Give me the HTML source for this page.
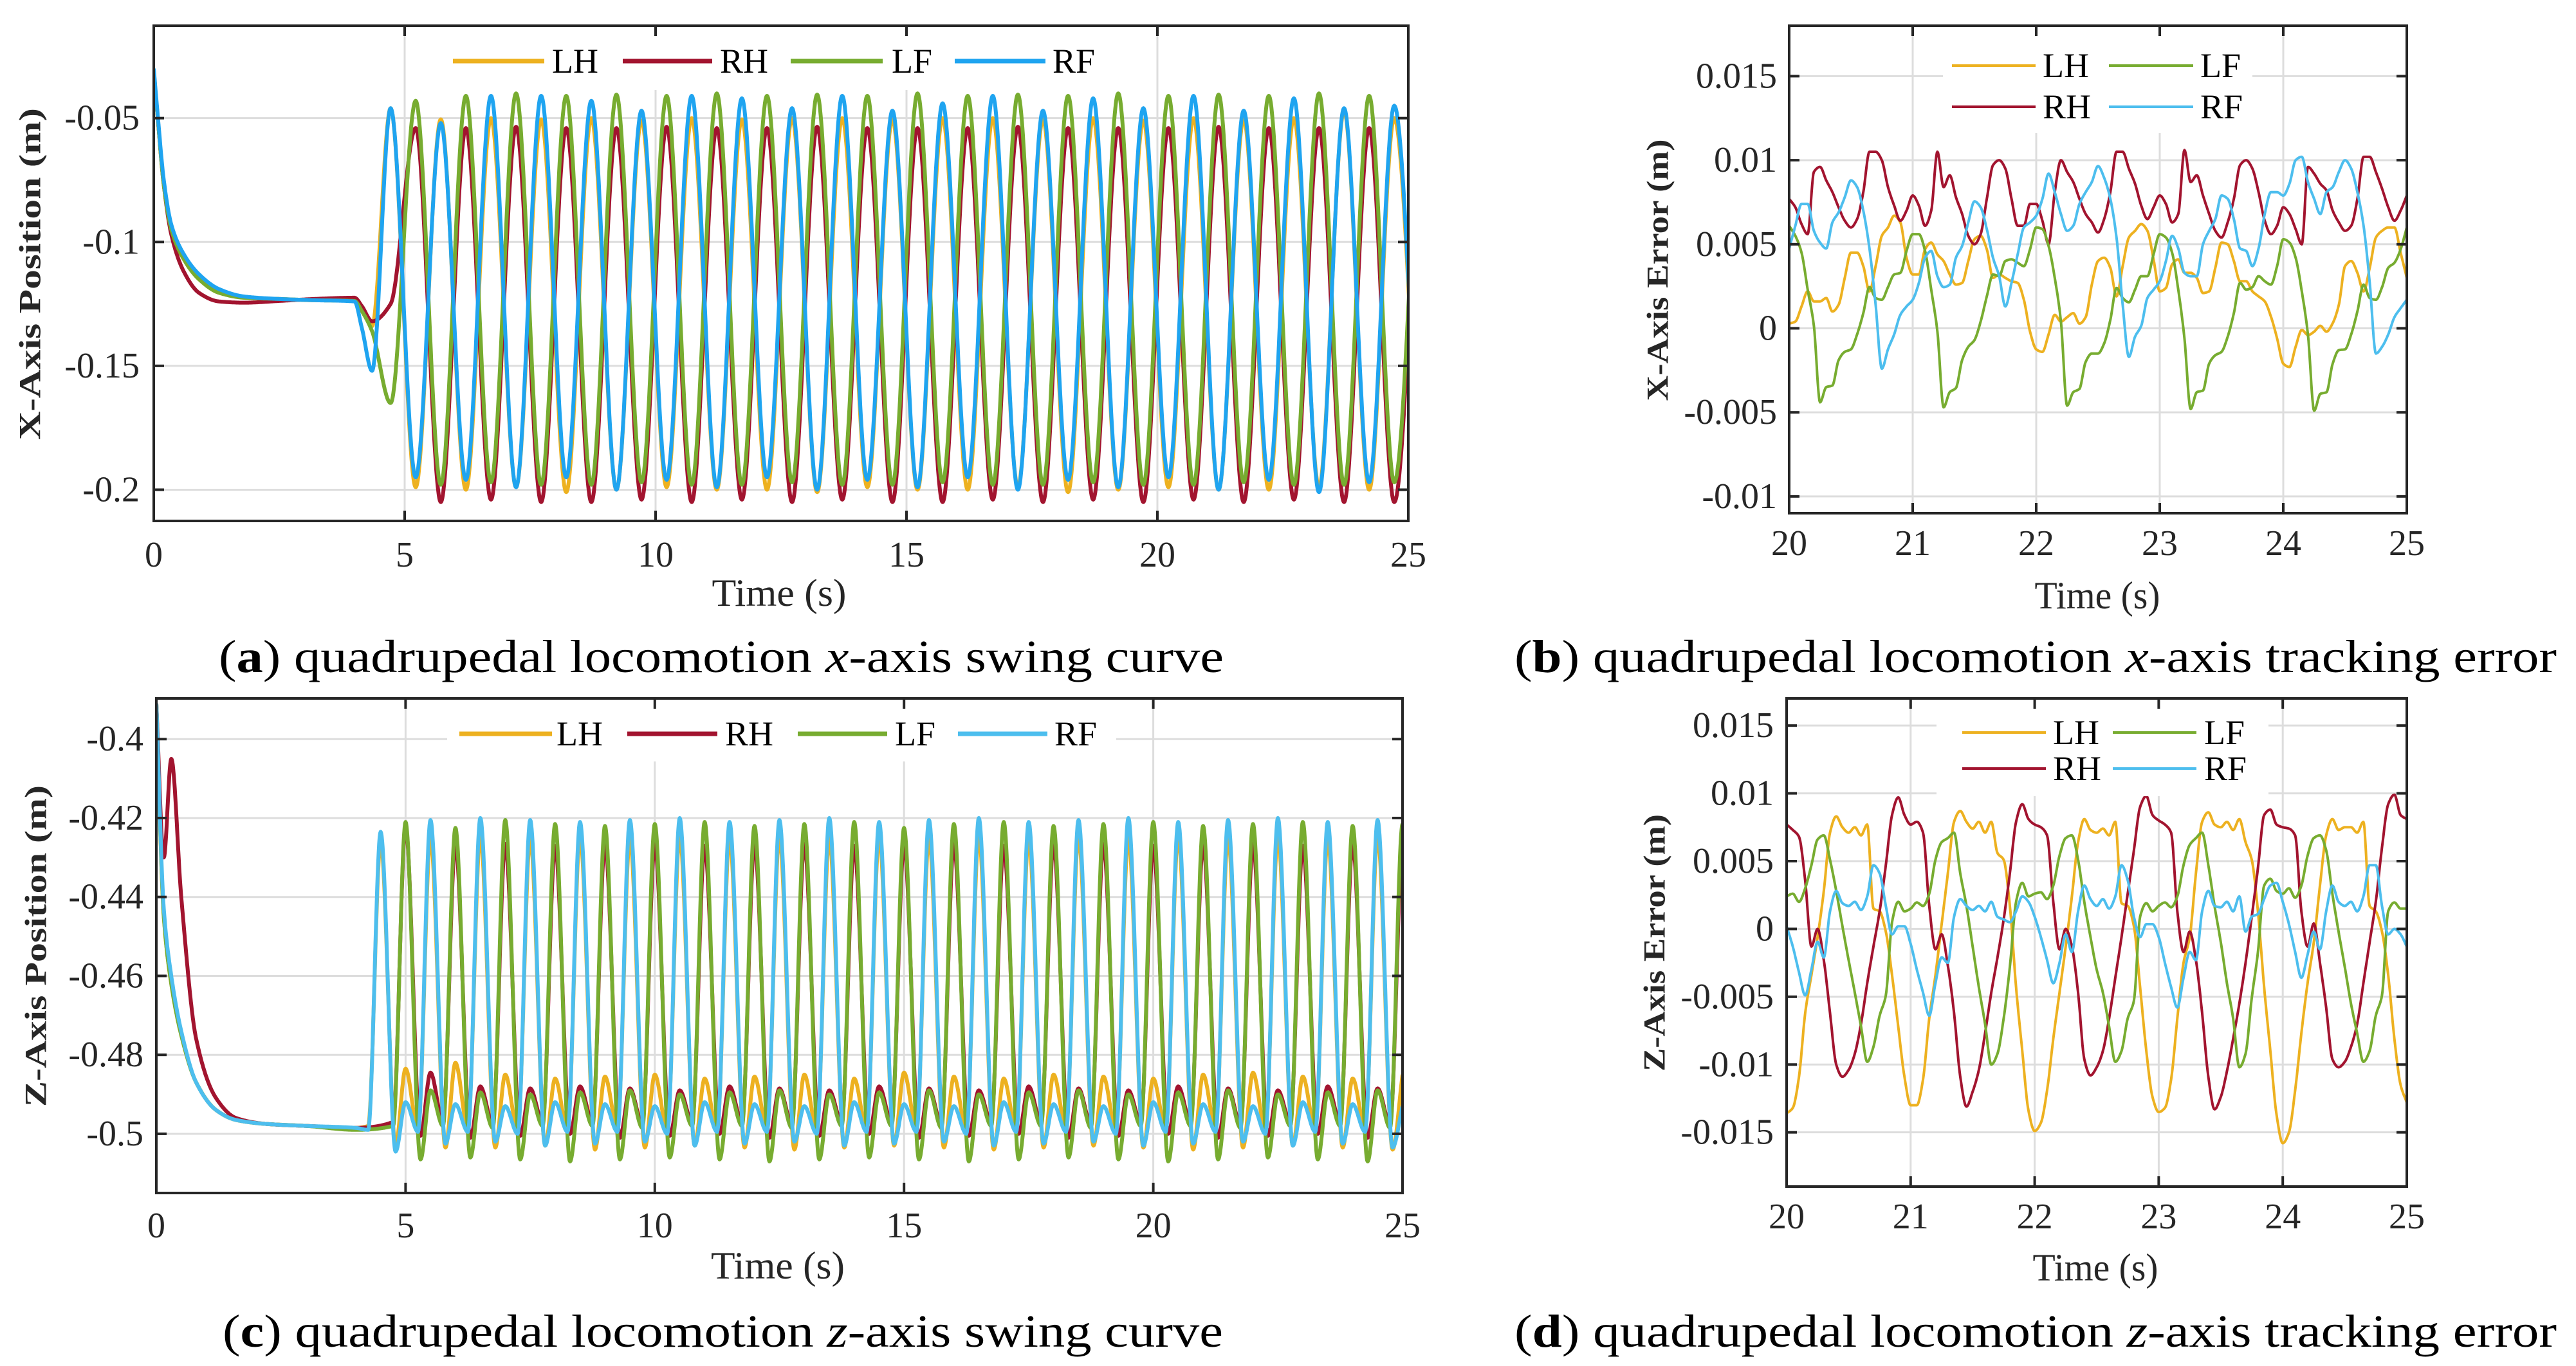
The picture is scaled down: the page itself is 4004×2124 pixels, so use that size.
<!DOCTYPE html>
<html><head><meta charset="utf-8"><title>Quadrupedal locomotion swing curves</title>
<style>html,body{margin:0;padding:0;background:#fff}svg{display:block}</style></head>
<body>
<svg id="fig" xmlns="http://www.w3.org/2000/svg" width="4004" height="2124" viewBox="0 0 4004 2124" font-family="'Liberation Serif', serif"></svg>
<script>
// ===== Panel (a) x-axis swing curve =====
const aTransT = [0, 0.08, 0.2, 0.35, 0.6, 0.9, 1.3, 1.8, 2.5, 3.2, 4.0, 4.15, 4.35];
const aTransLH = [-0.031, -0.05, -0.077, -0.095, -0.107, -0.115, -0.1205, -0.1225, -0.123, -0.1235, -0.123, -0.127, -0.134];
const aTransRH = [-0.031, -0.05, -0.077, -0.097, -0.112, -0.1205, -0.124, -0.1245, -0.1238, -0.123, -0.1225, -0.126, -0.132];
const aTransLF = [-0.031, -0.05, -0.077, -0.095, -0.107, -0.115, -0.1205, -0.1225, -0.123, -0.1235, -0.1238, -0.128, -0.136];
const aTransRF = [-0.030, -0.049, -0.075, -0.093, -0.105, -0.113, -0.119, -0.122, -0.123, -0.1235, -0.124, -0.135, -0.152];
const aGaitStart = 4.72;
const aGaitStep = 0.5;
const aGaitLH = [-0.046,-0.199, -0.0505,-0.200, -0.050,-0.199, -0.0505,-0.201, -0.050,-0.200, -0.051,-0.199, -0.050,-0.200, -0.0505,-0.200, -0.050,-0.201, -0.050,-0.199, -0.0505,-0.200, -0.050,-0.200, -0.050,-0.199, -0.0505,-0.201, -0.050,-0.200, -0.051,-0.199, -0.050,-0.200, -0.0505,-0.200, -0.050,-0.199, -0.047,-0.200, -0.050,-0.200];
const aGaitRF = [-0.046,-0.195, -0.052,-0.196, -0.041,-0.199, -0.041,-0.195, -0.043,-0.200, -0.047,-0.196, -0.041,-0.199, -0.042,-0.195, -0.046,-0.200, -0.041,-0.196, -0.047,-0.199, -0.044,-0.195, -0.041,-0.200, -0.047,-0.196, -0.042,-0.199, -0.046,-0.195, -0.041,-0.200, -0.047,-0.196, -0.042,-0.201, -0.046,-0.197, -0.045,-0.198];
const aGaitRH = [-0.125,-0.054, -0.205,-0.054, -0.204,-0.0535, -0.205,-0.054, -0.205,-0.054, -0.204,-0.0535, -0.205,-0.054, -0.204,-0.054, -0.205,-0.0535, -0.204,-0.054, -0.205,-0.054, -0.205,-0.054, -0.204,-0.0535, -0.205,-0.054, -0.204,-0.054, -0.205,-0.054, -0.204,-0.0535, -0.205,-0.054, -0.204,-0.054, -0.205,-0.054, -0.205,-0.054];
const aGaitLF = [-0.165,-0.043, -0.198,-0.041, -0.197,-0.040, -0.198,-0.041, -0.198,-0.0405, -0.197,-0.041, -0.198,-0.040, -0.198,-0.041, -0.197,-0.0405, -0.198,-0.041, -0.198,-0.040, -0.197,-0.041, -0.198,-0.0405, -0.198,-0.041, -0.197,-0.040, -0.198,-0.041, -0.198,-0.0405, -0.197,-0.041, -0.198,-0.040, -0.198,-0.041, -0.197,-0.041];
const aYTicks = [-0.2, -0.15, -0.1, -0.05];
const aYTickLabels = ["-0.2", "-0.15", "-0.1", "-0.05"];
const acXTicks = [0, 5, 10, 15, 20, 25];
const acXTickLabels = ["0", "5", "10", "15", "20", "25"];

// ===== Panel (c) z-axis swing curve =====
const cTransT = [0, 0.15, 0.3, 0.5, 0.8, 1.2, 1.6, 2.2, 3.0, 4.0];
const cTransLH = [-0.391, -0.445, -0.462, -0.475, -0.487, -0.494, -0.4965, -0.4975, -0.498, -0.4985];
const cTransRH = [-0.391, -0.43, -0.405, -0.44, -0.476, -0.491, -0.496, -0.4975, -0.498, -0.4985];
const cTransLF = [-0.391, -0.445, -0.462, -0.475, -0.487, -0.494, -0.4965, -0.4975, -0.498, -0.499];
const cTransRF = [-0.391, -0.443, -0.46, -0.474, -0.487, -0.494, -0.4965, -0.4975, -0.498, -0.4985];
const cPairAStart = 4.5;
const cPairBStart = 5.0;
const cRestLH = [-0.498,-0.499,-0.4985,-0.499,-0.499,-0.4985,-0.499,-0.499,-0.4985,-0.499,-0.499,-0.4985,-0.499,-0.499,-0.4985,-0.499,-0.499,-0.4985,-0.499,-0.499,-0.4985];
const cPeakLH = [-0.426,-0.425,-0.4245,-0.425,-0.4245,-0.425,-0.4245,-0.425,-0.4245,-0.425,-0.4245,-0.425,-0.4245,-0.425,-0.4245,-0.425,-0.4245,-0.425,-0.4245,-0.425,-0.4245];
const cLowLH = [-0.503,-0.5035,-0.5035,-0.503,-0.504,-0.5035,-0.503,-0.5035,-0.504,-0.5035,-0.503,-0.5035,-0.504,-0.5035,-0.503,-0.5035,-0.504,-0.5035,-0.503,-0.5035,-0.504];
const cBumpLH = [-0.4835,-0.482,-0.485,-0.486,-0.4855,-0.485,-0.486,-0.4855,-0.485,-0.486,-0.4845,-0.4855,-0.486,-0.485,-0.4855,-0.486,-0.485,-0.4845,-0.4855,-0.486,-0.485];
const cRestRF = [-0.499,-0.4995,-0.4995,-0.5,-0.4995,-0.4995,-0.5,-0.4995,-0.4995,-0.5,-0.4995,-0.4995,-0.5,-0.4995,-0.4995,-0.5,-0.4995,-0.4995,-0.5,-0.4995,-0.4995];
const cPeakRF = [-0.4235,-0.4205,-0.42,-0.4205,-0.421,-0.4205,-0.42,-0.421,-0.4205,-0.42,-0.421,-0.4205,-0.42,-0.421,-0.4205,-0.42,-0.421,-0.4205,-0.42,-0.421,-0.4205];
const cLowRF = [-0.5045,-0.5025,-0.502,-0.503,-0.5025,-0.502,-0.503,-0.5025,-0.502,-0.503,-0.5025,-0.502,-0.503,-0.5025,-0.502,-0.503,-0.5025,-0.502,-0.503,-0.5025,-0.5035];
const cBumpRF = [-0.492,-0.4925,-0.493,-0.492,-0.4925,-0.493,-0.492,-0.4925,-0.493,-0.492,-0.4925,-0.493,-0.492,-0.4925,-0.493,-0.492,-0.4925,-0.493,-0.492,-0.4925,-0.493];
const cRestRH = [-0.497,-0.497,-0.4975,-0.497,-0.497,-0.4975,-0.497,-0.497,-0.4975,-0.497,-0.497,-0.4975,-0.497,-0.497,-0.4975,-0.497,-0.497,-0.4975,-0.497,-0.497,-0.4975];
const cPeakRH = [-0.422,-0.4265,-0.4265,-0.427,-0.4265,-0.4265,-0.427,-0.4265,-0.4265,-0.427,-0.4265,-0.4265,-0.427,-0.4265,-0.4265,-0.427,-0.4265,-0.4265,-0.427,-0.4265,-0.428];
const cLowRH = [-0.5005,-0.501,-0.5005,-0.5,-0.501,-0.5005,-0.5,-0.501,-0.5005,-0.5,-0.501,-0.5005,-0.5,-0.501,-0.5005,-0.5,-0.501,-0.5005,-0.5,-0.501,-0.5005];
const cBumpRH = [-0.4845,-0.488,-0.4885,-0.488,-0.4885,-0.489,-0.488,-0.4885,-0.489,-0.488,-0.4885,-0.489,-0.488,-0.4885,-0.489,-0.488,-0.4885,-0.489,-0.488,-0.4885,-0.489];
const cRestLF = [-0.498,-0.498,-0.4985,-0.498,-0.498,-0.4985,-0.498,-0.498,-0.4985,-0.498,-0.498,-0.4985,-0.498,-0.498,-0.4985,-0.498,-0.498,-0.4985,-0.498,-0.498,-0.4985];
const cPeakLF = [-0.421,-0.4225,-0.4205,-0.4215,-0.422,-0.4215,-0.421,-0.422,-0.4215,-0.421,-0.4225,-0.4215,-0.421,-0.422,-0.4215,-0.421,-0.422,-0.4215,-0.421,-0.422,-0.4215];
const cLowLF = [-0.5065,-0.506,-0.5065,-0.507,-0.5065,-0.506,-0.5065,-0.507,-0.5065,-0.506,-0.5065,-0.507,-0.5065,-0.506,-0.5065,-0.507,-0.5065,-0.506,-0.5065,-0.507,-0.5065];
const cBumpLF = [-0.489,-0.4895,-0.49,-0.4895,-0.489,-0.49,-0.4895,-0.489,-0.49,-0.4895,-0.489,-0.49,-0.4895,-0.489,-0.49,-0.4895,-0.489,-0.49,-0.4895,-0.489,-0.49];
const cYTicks = [-0.5, -0.48, -0.46, -0.44, -0.42, -0.4];
const cYTickLabels = ["-0.5", "-0.48", "-0.46", "-0.44", "-0.42", "-0.4"];

// ===== Panel (b) x-axis tracking error (mm, t = 20..25 uniform) =====
const bLH = [0.28,0.4,1.3,2.2,1.6,1.6,1.8,1.0,1.4,3.0, 4.5,4.5,3.7,2.2,3.7,5.5,6.0,6.7,6.3,4.2, 3.2,3.2,4.7,5.1,4.4,4.0,3.2,2.6,2.7,4.0, 5.3,5.5,4.7,3.0,3.2,3.0,2.8,2.7,1.7,-0.2, -1.25,-1.4,-0.36,0.8,0.4,0.66,0.9,0.28,0.66,2.6,
  4.0,4.2,3.6,1.9,3.7,5.4,5.8,6.2,5.8,4.1, 2.2,2.4,3.8,4.1,3.3,3.3,3.0,2.1,2.2,3.6, 5.1,5.0,4.0,2.8,2.8,2.2,1.9,1.6,0.7,-0.6, -2.1,-2.3,-1.1,-0.1,-0.4,-0.2,0.15,-0.2,0.3,1.4, 3.7,4.0,3.3,2.2,3.6,5.4,5.8,6.0,6.0,4.5,3.0];
const bRH = [7.7,7.2,6.2,5.6,9.3,9.6,8.8,8.1,7.2,6.4, 6.0,6.5,8.1,10.5,10.5,10.0,8.4,7.3,6.4,7.0, 7.9,7.3,6.1,7.0,10.5,8.4,9.1,7.8,6.8,5.5, 5.0,5.6,7.7,9.7,10.0,9.5,7.7,6.1,6.1,7.4, 7.4,6.4,5.0,8.1,10.0,9.3,8.7,7.7,6.8,6.3,
  5.7,6.5,8.1,10.5,10.5,9.5,8.6,7.3,6.5,7.2, 7.9,7.4,6.3,6.8,10.6,8.7,9.1,7.9,6.8,5.8, 5.4,6.3,7.7,9.7,10.0,9.5,8.1,6.4,5.6,6.1, 7.2,6.8,5.9,5.0,9.6,9.2,8.6,8.2,7.0,6.3, 5.8,6.1,7.7,10.2,10.2,9.3,8.3,7.2,6.4,7.0,7.9];
const bLF = [6.1,5.5,4.5,2.3,0.15,-4.4,-3.5,-3.4,-1.9,-1.4, -1.25,-0.36,0.9,2.45,1.8,1.7,2.45,3.2,3.3,4.6, 5.6,5.6,4.6,2.3,-0.2,-4.7,-3.8,-3.55,-1.9,-1.1, -0.7,0.4,1.9,3.2,3.1,4.0,4.1,3.9,3.7,4.7, 6.0,5.9,4.9,3.0,0.4,-4.6,-3.8,-3.6,-2.0,-1.5,
  -1.5,-0.9,0.5,2.4,1.8,1.55,2.3,3.1,3.1,4.4, 5.6,5.4,4.5,2.3,-0.6,-4.8,-3.8,-3.7,-2.1,-1.6, -1.4,-0.5,0.9,2.7,2.3,2.45,3.1,2.8,2.6,3.7, 5.3,5.1,4.2,2.2,-0.4,-4.9,-3.9,-3.8,-2.1,-1.3, -1.25,-0.36,1.0,2.6,1.8,1.7,2.45,3.6,3.9,4.7,6.0];
const bRF = [4.75,6.1,7.4,7.4,5.8,5.1,4.75,6.3,6.9,7.8, 8.8,8.4,7.0,4.75,1.4,-2.4,-1.25,-0.36,0.8,1.3, 1.7,2.7,4.2,4.6,3.1,2.45,2.6,4.2,4.9,6.3, 7.55,7.2,5.9,4.2,3.1,1.3,2.7,4.4,6.0,6.3, 6.7,7.7,9.2,8.1,6.8,5.8,6.1,7.4,8.1,8.7,
  9.65,8.95,7.7,5.4,1.4,-1.7,-0.5,0.15,1.8,2.3, 2.8,4.0,5.5,4.75,3.3,3.1,3.1,5.0,5.8,6.5, 7.9,7.7,6.5,4.75,4.6,3.7,4.75,6.8,8.1,8.1, 7.9,8.6,10.0,10.2,8.7,7.7,6.8,8.1,8.4,9.3, 10.0,9.5,8.1,6.1,2.7,-1.5,-1.1,-0.36,0.66,1.2,1.7];
const bYTicks = [-0.01, -0.005, 0, 0.005, 0.01, 0.015];
const bYTickLabels = ["-0.01", "-0.005", "0", "0.005", "0.01", "0.015"];
const bdXTicks = [20, 21, 22, 23, 24, 25];
const bdXTickLabels = ["20", "21", "22", "23", "24", "25"];

// ===== Panel (d) z-axis tracking error (mm, t = 20..25 uniform) =====
const dLH = [-13.6,-13.2,-10.9,-6.2,-3.4,-0.6,2.8,7.1,8.3,7.5, 7.1,7.5,6.9,7.7,1.5,1.3,-0.2,-3.4,-7.2,-10.9, -13.0,-13.0,-11.1,-6.6,-3.4,0.35,4.1,7.9,8.7,7.9, 7.4,7.9,7.1,7.9,5.6,5.1,1.7,-4.3,-9.0,-13.4, -14.9,-14.3,-11.9,-8.1,-4.7,-1.3,2.4,6.4,8.1,7.3,7.1,
  7.4,6.9,7.9,1.9,1.7,0.2,-4.3,-9.0,-12.4, -13.5,-13.2,-11.1,-6.6,-2.5,-0.6,4.1,7.9,8.6,7.7, 7.5,7.9,7.3,8.1,6.4,5.1,1.3,-4.3,-9.0,-13.7, -15.8,-15.0,-11.9,-7.7,-4.0,-1.0,3.2,6.9,8.1,7.3, 7.5,7.5,7.1,7.9,1.7,1.3,-0.2,-3.4,-8.1,-11.5,-12.8];
const dRH = [7.7,7.3,6.8,3.55,-1.3,0.0,-2.3,-6.2,-10.0,-10.9, -10.4,-9.2,-7.0,-4.0,-1.3,1.3,4.7,8.4,9.7,8.4, 7.7,7.9,7.1,1.7,-1.5,-0.4,-2.7,-6.2,-10.9,-13.1, -12.0,-10.4,-7.7,-4.7,-2.1,0.7,4.1,7.9,9.2,8.1, 7.7,7.5,6.9,2.0,-1.5,0.0,-1.3,-4.7,-9.6,-10.8,-10.2,
  -9.0,-6.6,-3.6,-0.6,2.6,5.8,9.0,9.8,8.4, 8.0,7.7,7.1,1.3,-1.7,-0.2,-2.3,-6.2,-10.9,-13.3, -12.4,-10.5,-8.1,-5.5,-2.5,0.9,4.5,8.4,8.8,7.7, 7.5,7.4,6.9,1.3,-1.3,0.4,-2.5,-5.8,-9.6,-10.2, -9.8,-8.7,-7.0,-4.0,-1.0,2.0,6.0,9.2,9.9,8.4,8.1];
const dLF = [2.4,2.6,2.0,3.0,4.7,6.6,6.9,5.1,2.8,0.2, -2.3,-4.7,-7.2,-9.8,-8.7,-6.4,-4.9,0.5,2.0,1.3, 1.5,1.95,1.7,2.6,5.1,6.4,6.7,7.1,4.1,1.7, -1.3,-4.3,-7.0,-10.0,-9.2,-6.6,-2.8,2.0,3.4,2.4, 2.6,2.7,2.2,3.2,5.4,6.7,6.9,5.1,2.0,-0.6,-3.0,
  -4.7,-7.2,-9.8,-9.0,-6.6,-5.3,0.9,1.9,1.3, 1.7,1.95,1.6,2.4,4.7,6.2,6.7,7.1,4.7,1.7, -0.95,-4.0,-6.6,-10.2,-9.2,-5.1,-1.7,3.2,3.7,2.8, 2.6,3.0,2.3,3.2,5.4,6.7,6.9,5.8,2.6,-0.2, -2.8,-5.5,-7.7,-9.8,-9.0,-6.4,-4.9,1.3,1.95,1.5,1.5];
const dRF = [0.2,-1.3,-3.2,-4.9,-3.0,-0.95,-2.1,1.3,2.8,1.9, 1.7,2.0,1.4,2.4,4.7,4.1,1.7,-0.4,0.2,0.2, -1.1,-3.0,-4.7,-6.4,-4.0,-2.1,-2.5,0.9,2.2,1.7, 1.4,1.7,1.3,2.0,0.9,0.7,0.5,1.3,2.4,2.0, 0.9,-0.6,-2.3,-4.0,-2.5,-0.4,-1.7,1.3,3.2,2.2,1.7,
  2.2,1.5,2.4,4.7,3.6,0.9,-0.6,0.35,0.35,-0.6, -2.5,-4.3,-5.8,-3.6,-1.7,-2.3,1.3,2.8,1.7,1.6, 2.0,1.3,2.4,-0.2,0.9,1.1,2.2,3.2,3.4,2.0, 0.35,-1.7,-3.6,-1.9,-0.2,-1.5,1.3,3.2,2.0,1.7, 2.0,1.3,2.4,4.7,4.7,1.7,-0.4,0.0,-0.4,-1.3];
const dYTicks = [-0.015, -0.01, -0.005, 0, 0.005, 0.01, 0.015];
const dYTickLabels = ["-0.015", "-0.01", "-0.005", "0", "0.005", "0.01", "0.015"];

const legendNames = ["LH", "RH", "LF", "RF"];

// ===== rendering =====
const NS = "http://www.w3.org/2000/svg";
const svg = document.getElementById("fig");
function mk(tag, attrs, parent) {
  const e = document.createElementNS(NS, tag);
  for (const k in attrs) e.setAttribute(k, attrs[k]);
  (parent || svg).appendChild(e);
  return e;
}
function monotone(xs, ys) {
  const n = xs.length, h = [], d = [], m = new Array(n);
  for (let i = 0; i < n - 1; i++) { h[i] = xs[i+1] - xs[i]; d[i] = (ys[i+1] - ys[i]) / h[i]; }
  m[0] = d[0]; m[n-1] = d[n-2];
  for (let i = 1; i < n - 1; i++) {
    if (d[i-1] * d[i] <= 0) m[i] = 0;
    else { const w1 = 2*h[i] + h[i-1], w2 = h[i] + 2*h[i-1]; m[i] = (w1 + w2) / (w1 / d[i-1] + w2 / d[i]); }
  }
  return { h, m };
}
function curvePath(xs, ys, sx, sy, dt) {
  const { h, m } = monotone(xs, ys);
  let p = "M" + sx(xs[0]).toFixed(1) + "," + sy(ys[0]).toFixed(1);
  for (let i = 0; i < xs.length - 1; i++) {
    const k = Math.max(1, Math.ceil(h[i] / dt));
    for (let j = 1; j <= k; j++) {
      const s = j / k, s2 = s*s, s3 = s2*s;
      const v = (2*s3 - 3*s2 + 1) * ys[i] + (s3 - 2*s2 + s) * h[i] * m[i] + (-2*s3 + 3*s2) * ys[i+1] + (s3 - s2) * h[i] * m[i+1];
      p += "L" + sx(xs[i] + s*h[i]).toFixed(1) + "," + sy(v).toFixed(1);
    }
  }
  return p;
}
function makePanel(id, g) {
  const sx = t => g.x0 + (t - g.xd[0]) / (g.xd[1] - g.xd[0]) * (g.x1 - g.x0);
  const sy = v => g.y1 - (v - g.yd[0]) / (g.yd[1] - g.yd[0]) * (g.y1 - g.y0);
  const grp = mk("g", {});
  
  
  const clip = mk("clipPath", { id: id + "-clip" }, grp);
  mk("rect", { x: g.x0, y: g.y0, width: g.x1 - g.x0, height: g.y1 - g.y0 }, clip);
  return { sx, sy, grp, g };
}
function drawGrid(P, xTicks, yTicks) {
  const { sx, sy, grp, g } = P;
  xTicks.forEach(t => {
    if (t === g.xd[0] || t === g.xd[1]) return;
    const l = mk("line", { x1: sx(t), x2: sx(t), y1: g.y0, y2: g.y1, stroke: "#dddddd", "stroke-width": 3 }, grp);
    
    
  });
  yTicks.forEach(v => {
    const l = mk("line", { x1: g.x0, x2: g.x1, y1: sy(v), y2: sy(v), stroke: "#dddddd", "stroke-width": 3 }, grp);
    
    
  });
}
function drawSeries(P, id, name, xs, ys, color, width, dt) {
  const path = mk("path", { d: curvePath(xs, ys, P.sx, P.sy, dt), fill: "none", stroke: color, "stroke-width": width, "stroke-linejoin": "round", "clip-path": "url(#" + id + "-clip)" }, P.grp);
  
  
}
function drawAxes(P, xTicks, xLabels, yTicks, yLabels, o) {
  const { sx, sy, grp, g } = P;
  const box = mk("rect", { x: g.x0, y: g.y0, width: g.x1 - g.x0, height: g.y1 - g.y0, fill: "none", stroke: "#262626", "stroke-width": 4 }, grp);
  
  
  const tl = 16;
  xTicks.forEach((t, i) => {
    mk("line", { x1: sx(t), x2: sx(t), y1: g.y1, y2: g.y1 - tl, stroke: "#262626", "stroke-width": 4 }, grp);
    mk("line", { x1: sx(t), x2: sx(t), y1: g.y0, y2: g.y0 + tl, stroke: "#262626", "stroke-width": 4 }, grp);
    const tx = mk("text", { x: sx(t), y: o.xTickY, "text-anchor": "middle", "dominant-baseline": "central", "font-size": 56, fill: "#262626" }, grp);
    tx.textContent = xLabels[i];
    
    
  });
  yTicks.forEach((v, i) => {
    mk("line", { x1: g.x0, x2: g.x0 + tl, y1: sy(v), y2: sy(v), stroke: "#262626", "stroke-width": 4 }, grp);
    mk("line", { x1: g.x1, x2: g.x1 - tl, y1: sy(v), y2: sy(v), stroke: "#262626", "stroke-width": 4 }, grp);
    const tx = mk("text", { x: o.yTickX, y: sy(v), "text-anchor": "end", "dominant-baseline": "central", "font-size": 56, fill: "#262626" }, grp);
    tx.textContent = yLabels[i];
    
    
  });
  const xl = mk("text", { x: o.xLabel[0], y: o.xLabel[1], "text-anchor": "middle", "dominant-baseline": "central", "font-size": 60, textLength: o.xLabel[2], lengthAdjust: "spacingAndGlyphs", fill: "#262626" }, grp);
  xl.textContent = "Time (s)";
  
  
  const yl = mk("text", { x: 0, y: 0, transform: "translate(" + o.yLabel[0] + "," + o.yLabel[1] + ") rotate(-90)", "text-anchor": "middle", "dominant-baseline": "central", "font-size": 48, "font-weight": "bold", textLength: o.yLabel[2], lengthAdjust: "spacingAndGlyphs", fill: "#262626" }, grp);
  yl.textContent = o.yTitle;
  
  
}
function drawLegend(P, box, items) {
  const bg = mk("rect", { x: box[0], y: box[1], width: box[2], height: box[3], fill: "#ffffff" }, P.grp);
  
  
  items.forEach(it => {
    const lg = mk("g", {}, P.grp);
    
    
    mk("line", { x1: it.x1, x2: it.x2, y1: it.y, y2: it.y, stroke: it.color, "stroke-width": it.w }, lg);
    const t = mk("text", { x: it.tx, y: it.y, "dominant-baseline": "central", "font-size": 54, fill: "#000" }, lg);
    t.textContent = it.name;
  });
}
function drawCaption(x, y, len, letter, rest, italicWord, tail, name) {
  const t = mk("text", { x: x, y: y, "dominant-baseline": "central", "font-size": 72, textLength: len, lengthAdjust: "spacingAndGlyphs", fill: "#000" });
  
  
  const a = mk("tspan", {}, t); a.textContent = "(";
  const b = mk("tspan", { "font-weight": "bold" }, t); b.textContent = letter;
  const c = mk("tspan", {}, t); c.textContent = ") " + rest;
  const d = mk("tspan", { "font-style": "italic" }, t); d.textContent = italicWord;
  const e = mk("tspan", {}, t); e.textContent = tail;
}
function gaitKnots(transT, transV, start, step, vals) {
  const xs = transT.slice(), ys = transV.slice();
  vals.forEach((v, i) => { xs.push(start + i * step); ys.push(v); });
  return [xs, ys];
}
function zKnots(transT, transV, start, rest, peak, low, bump) {
  const xs = transT.slice(), ys = transV.slice();
  for (let k = 0; k < peak.length; k++) {
    const T = start + k;
    xs.push(T - 0.25, T, T + 0.3, T + 0.5);
    ys.push(rest[k], peak[k], low[k], bump[k]);
  }
  return [xs, ys];
}
function uniformT(n, t0, t1) { const a = []; for (let i = 0; i < n; i++) a.push(t0 + (t1 - t0) * i / (n - 1)); return a; }
const mm = arr => arr.map(v => v / 1000);

const COL = { LH: "#EDB120", RH: "#A2142F", LF: "#77AC30", RF: "#4DBEEE" };

// Panel a
const PA = makePanel("panel-a", { x0: 239, x1: 2189, y0: 40, y1: 810, xd: [0, 25], yd: [-0.2126, -0.0127] });
drawGrid(PA, acXTicks, aYTicks);
[["LH", aTransLH, aGaitLH, COL.LH], ["RH", aTransRH, aGaitRH, COL.RH], ["LF", aTransLF, aGaitLF, COL.LF], ["RF", aTransRF, aGaitRF, "#1FA4F0"]].forEach(s => {
  const [xs, ys] = gaitKnots(aTransT, s[1], aGaitStart, aGaitStep, s[2]);
  drawSeries(PA, "panel-a", s[0], xs, ys, s[3], 6, 0.01);
});
drawLegend(PA, [690, 50, 1040, 90], [
  { name: "LH", x1: 704, x2: 846, tx: 858, y: 95, color: COL.LH, w: 7 },
  { name: "RH", x1: 968, x2: 1107, tx: 1119, y: 95, color: COL.RH, w: 7 },
  { name: "LF", x1: 1229, x2: 1372, tx: 1386, y: 95, color: COL.LF, w: 7 },
  { name: "RF", x1: 1484, x2: 1625, tx: 1636, y: 95, color: "#1FA4F0", w: 7 }]);
drawAxes(PA, acXTicks, acXTickLabels, aYTicks, aYTickLabels, { xTickY: 863, yTickX: 217, xLabel: [1211, 922, 209], yLabel: [47, 426, 516], yTitle: "X-Axis Position (m)" });

// Panel b
const PB = makePanel("panel-b", { x0: 2781, x1: 3741, y0: 40, y1: 798, xd: [20, 25], yd: [-0.011, 0.018] });
drawGrid(PB, bdXTicks, bYTicks);
[["LH", bLH], ["RH", bRH], ["LF", bLF], ["RF", bRF]].forEach(s => {
  drawSeries(PB, "panel-b", s[0], uniformT(s[1].length, 20, 25), mm(s[1]), COL[s[0]], 4, 0.005);
});
drawLegend(PB, [3020, 46, 481, 161], [
  { name: "LH", x1: 3034, x2: 3164, tx: 3175, y: 102, color: COL.LH, w: 4 },
  { name: "LF", x1: 3278, x2: 3409, tx: 3420, y: 102, color: COL.LF, w: 4 },
  { name: "RH", x1: 3034, x2: 3164, tx: 3175, y: 166, color: COL.RH, w: 4 },
  { name: "RF", x1: 3278, x2: 3409, tx: 3420, y: 166, color: COL.RF, w: 4 }]);
drawAxes(PB, bdXTicks, bdXTickLabels, bYTicks, bYTickLabels, { xTickY: 845, yTickX: 2762, xLabel: [3260, 926, 195], yLabel: [2577, 420, 407], yTitle: "X-Axis Error (m)" });

// Panel c
const PC = makePanel("panel-c", { x0: 243, x1: 2180, y0: 1086, y1: 1855, xd: [0, 25], yd: [-0.515, -0.3897] });
drawGrid(PC, acXTicks, cYTicks);
[["LH", cTransLH, cPairAStart, cRestLH, cPeakLH, cLowLH, cBumpLH],
 ["RH", cTransRH, cPairBStart, cRestRH, cPeakRH, cLowRH, cBumpRH],
 ["LF", cTransLF, cPairBStart, cRestLF, cPeakLF, cLowLF, cBumpLF],
 ["RF", cTransRF, cPairAStart, cRestRF, cPeakRF, cLowRF, cBumpRF]].forEach(s => {
  const [xs, ys] = zKnots(cTransT, s[1], s[2], s[3], s[4], s[5], s[6]);
  drawSeries(PC, "panel-c", s[0], xs, ys, COL[s[0]], 6, 0.01);
});
drawLegend(PC, [695, 1092, 1040, 92], [
  { name: "LH", x1: 714, x2: 858, tx: 865, y: 1141, color: COL.LH, w: 7 },
  { name: "RH", x1: 975, x2: 1115, tx: 1127, y: 1141, color: COL.RH, w: 7 },
  { name: "LF", x1: 1240, x2: 1379, tx: 1391, y: 1141, color: COL.LF, w: 7 },
  { name: "RF", x1: 1489, x2: 1628, tx: 1639, y: 1141, color: COL.RF, w: 7 }]);
drawAxes(PC, acXTicks, acXTickLabels, cYTicks, cYTickLabels, { xTickY: 1906, yTickX: 223, xLabel: [1209, 1968, 208], yLabel: [56, 1471, 500], yTitle: "Z-Axis Position (m)" });

// Panel d
const PD = makePanel("panel-d", { x0: 2777, x1: 3741, y0: 1086, y1: 1845, xd: [20, 25], yd: [-0.019, 0.017] });
drawGrid(PD, bdXTicks, dYTicks);
[["LH", dLH], ["RH", dRH], ["LF", dLF], ["RF", dRF]].forEach(s => {
  drawSeries(PD, "panel-d", s[0], uniformT(s[1].length, 20, 25), mm(s[1]), COL[s[0]], 4, 0.005);
});
drawLegend(PD, [3010, 1092, 516, 146], [
  { name: "LH", x1: 3050, x2: 3180, tx: 3191, y: 1139, color: COL.LH, w: 4 },
  { name: "LF", x1: 3284, x2: 3414, tx: 3426, y: 1139, color: COL.LF, w: 4 },
  { name: "RH", x1: 3050, x2: 3180, tx: 3191, y: 1195, color: COL.RH, w: 4 },
  { name: "RF", x1: 3284, x2: 3414, tx: 3426, y: 1195, color: COL.RF, w: 4 }]);
drawAxes(PD, bdXTicks, bdXTickLabels, dYTicks, dYTickLabels, { xTickY: 1892, yTickX: 2757, xLabel: [3257, 1971, 195], yLabel: [2572, 1466, 400], yTitle: "Z-Axis Error (m)" });

// Captions
drawCaption(340, 1021, 1562, "a", "quadrupedal locomotion ", "x", "-axis swing curve", "caption-a");
drawCaption(2354, 1021, 1620, "b", "quadrupedal locomotion ", "x", "-axis tracking error", "caption-b");
drawCaption(346, 2070, 1555, "c", "quadrupedal locomotion ", "z", "-axis swing curve", "caption-c");
drawCaption(2354, 2070, 1620, "d", "quadrupedal locomotion ", "z", "-axis tracking error", "caption-d");
</script>
</body></html>
